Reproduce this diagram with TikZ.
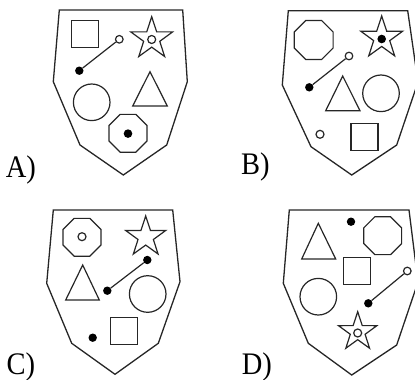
\documentclass[tikz,border=0pt]{standalone}
\usepackage{fontspec}
\setmainfont{Liberation Serif}
\usetikzlibrary{shapes.geometric}
\tikzset{
  ln/.style={line width=1.2pt, draw=black!85},
  shield/.style={line width=1.3pt, draw=black!85, line join=miter},
  sq/.style={ln, rectangle, minimum size=27pt, inner sep=0pt},
  circ/.style={ln, circle, minimum size=36.6pt, inner sep=0pt},
  octa/.style={ln, regular polygon, regular polygon sides=8, minimum size=41pt, inner sep=0pt},
  starshape/.style={ln, star, star points=5, star point ratio=2.6, minimum size=#1, inner sep=0pt},
  fdot/.style={circle, fill=black, minimum size=8.4pt, inner sep=0pt},
  odot/.style={circle, ln, fill=white, minimum size=7.6pt, inner sep=0pt},
  lbl/.style={anchor=base west, inner sep=0pt, font=\fontsize{28.5pt}{30pt}\selectfont},
  conn/.style={ln}
}
\newcommand{\tallt}[1]{\scalebox{1}[1.1]{#1}}
\begin{document}
\begin{tikzpicture}[x=1pt,y=-1pt]
\useasboundingbox (0,0) rectangle (415,380);
\clip (0,0) rectangle (415,380);
% ---------- A ----------
\draw[shield] (59.3,10) -- (182.7,10) -- (187.3,81.7) -- (166.7,145) -- (123.3,175) -- (80,145) -- (53.3,81.7) -- cycle;
\node[sq] (aSq) at (85.3,34) {};
\node[fdot] (aL1) at (79.3,70.7) {};
\node[odot] (aL2) at (119.3,39.3) {};
\draw[conn] (aL1) -- (aL2);
\node[starshape=44pt] (aStar) at (151.7,38.7) {};
\node[odot, minimum size=8pt] (aStarC) at (151.7,39.5) {};
\coordinate (aT1) at (150,71.7);
\coordinate (aT2) at (132.7,106);
\coordinate (aT3) at (167.3,106);
\draw[ln, line join=miter] (aT1) -- (aT2) -- (aT3) -- cycle;
\node[circ] (aCirc) at (91.7,102.3) {};
\node[octa] (aOct) at (128,133.3) {};
\node[fdot, minimum size=8.6pt] (aOctD) at (128,133.6) {};
\node[lbl] (aLab) at (5.7,177.5) {\tallt{A)}};
% ---------- B ----------
\draw[shield] (288.3,10.7) -- (407.7,10.7) -- (418,82) -- (396.7,145) -- (351.7,175) -- (311,146.7) -- (282.3,85) -- cycle;
\node[octa, minimum size=42pt] (bOct) at (313.7,40) {};
\node[starshape=44pt] (bStar) at (381.7,38) {};
\node[fdot, minimum size=8.6pt] (bStarD) at (381.7,39) {};
\node[fdot] (bL1) at (309.3,87.3) {};
\node[odot] (bL2) at (349,56) {};
\draw[conn] (bL1) -- (bL2);
\coordinate (bT1) at (342.7,76);
\coordinate (bT2) at (325.7,110.7);
\coordinate (bT3) at (360,110.7);
\draw[ln, line join=miter] (bT1) -- (bT2) -- (bT3) -- cycle;
\node[circ] (bCirc) at (381,93.3) {};
\node[odot, minimum size=8pt] (bSmall) at (320,134.3) {};
\node[sq] (bSq) at (364.5,137.3) {};
\node[lbl] (bLab) at (241,174.5) {\tallt{B)}};
% ---------- C ----------
\draw[shield] (53.3,210) -- (172.7,210) -- (180,281.7) -- (158.3,343.3) -- (115,374.3) -- (71.7,343.3) -- (46.7,283.3) -- cycle;
\node[octa] (cOct) at (82,237.3) {};
\node[odot, minimum size=8pt] (cOctC) at (82,236.7) {};
\node[starshape=42pt] (cStar) at (145.7,237) {};
\coordinate (cT1) at (82.7,265);
\coordinate (cT2) at (65.7,300);
\coordinate (cT3) at (99.3,300);
\draw[ln, line join=miter] (cT1) -- (cT2) -- (cT3) -- cycle;
\node[fdot] (cL1) at (107.3,290.7) {};
\node[fdot] (cL2) at (147.3,260) {};
\draw[conn] (cL1) -- (cL2);
\node[circ] (cCirc) at (147.7,294) {};
\node[fdot] (cDot) at (92.7,337.7) {};
\node[sq] (cSq) at (123.7,330.8) {};
\node[lbl] (cLab) at (6.5,374.3) {\tallt{C)}};
% ---------- D ----------
\draw[shield] (289.3,210) -- (409,210) -- (418,282) -- (396.7,345) -- (351.7,375) -- (308.3,343.3) -- (283.3,283.3) -- cycle;
\coordinate (dT1) at (318.3,223.3);
\coordinate (dT2) at (301.7,259);
\coordinate (dT3) at (335.7,259);
\draw[ln, line join=miter] (dT1) -- (dT2) -- (dT3) -- cycle;
\node[fdot] (dDot) at (351,221.7) {};
\node[octa] (dOct) at (382.7,235.7) {};
\node[sq] (dSq) at (357,271.3) {};
\node[circ] (dCirc) at (318.3,296.7) {};
\node[fdot] (dL1) at (368.3,303.3) {};
\node[odot] (dL2) at (407.3,271) {};
\draw[conn] (dL1) -- (dL2);
\node[starshape=40.4pt] (dStar) at (357.7,331.9) {};
\node[odot, minimum size=8pt] (dStarC) at (357.7,333) {};
\node[lbl] (dLab) at (241.7,374.3) {\tallt{D)}};
\end{tikzpicture}
\end{document}
